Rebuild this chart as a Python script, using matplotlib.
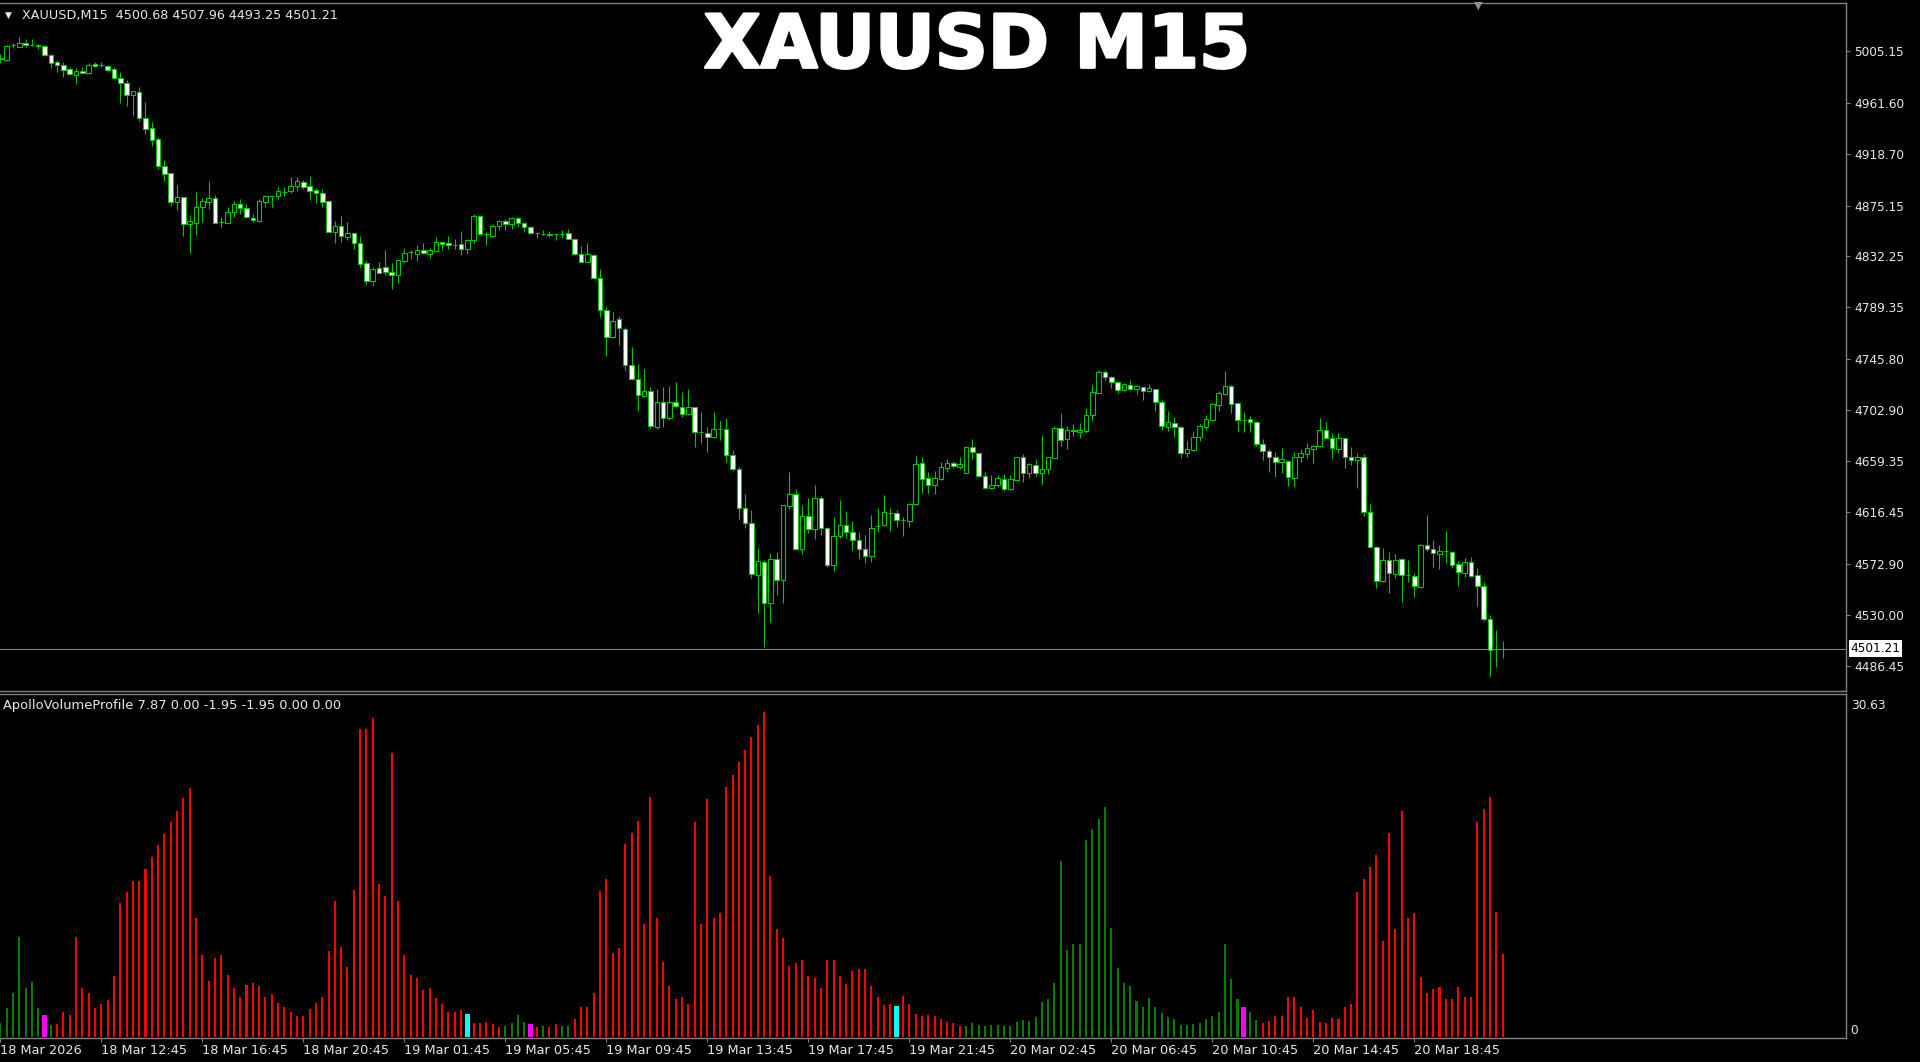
import matplotlib.pyplot as plt
import matplotlib.patheffects as pe
import numpy as np
from matplotlib.transforms import blended_transform_factory

# XAUUSD M15 bars, 18 Mar 2026 08:45 onwards
opens = [
    4999.0, 4997.9, 5010.3, 5009.1, 5011.9, 5010.5, 5010.8, 5009.7, 5002.4, 4995.9,
    4994.0, 4990.0, 4985.5, 4988.6, 4986.6, 4994.2, 4994.0, 4992.8, 4990.0, 4983.0,
    4978.8, 4968.1, 4971.2, 4949.3, 4940.3, 4931.0, 4908.8, 4902.3, 4878.4, 4882.1,
    4859.3, 4860.7, 4873.6, 4878.4, 4881.8, 4861.5, 4860.7, 4869.7, 4876.4, 4872.8,
    4864.9, 4862.1, 4878.4, 4883.5, 4883.2, 4886.8, 4887.7, 4891.6, 4895.0, 4891.6,
    4888.2, 4886.0, 4879.0, 4853.1, 4858.2, 4848.3, 4851.7, 4843.8, 4826.4, 4811.8,
    4822.2, 4823.6, 4818.8, 4816.3, 4828.3, 4835.7, 4834.3, 4837.6, 4834.3, 4836.8,
    4844.1, 4843.2, 4842.1, 4842.4, 4838.7, 4846.1, 4866.3, 4850.8, 4849.7, 4857.9,
    4862.1, 4859.3, 4864.9, 4860.7, 4856.7, 4851.7, 4851.4, 4850.8, 4850.8, 4851.4,
    4851.7, 4847.2, 4834.3, 4827.5, 4833.4, 4814.3, 4787.0, 4764.0, 4779.1, 4771.3,
    4740.6, 4728.5, 4714.8, 4719.0, 4688.6, 4709.7, 4695.6, 4709.7, 4705.5, 4699.0,
    4704.9, 4683.8, 4683.0, 4679.6, 4686.9, 4686.9, 4664.7, 4652.6, 4619.7, 4607.6,
    4563.5, 4574.8, 4539.6, 4576.7, 4559.3, 4622.0, 4631.6, 4585.2, 4613.6, 4602.0,
    4628.2, 4603.4, 4571.9, 4596.7, 4605.4, 4600.1, 4593.0, 4585.4, 4579.8, 4604.9,
    4605.7, 4615.5, 4615.5, 4609.9, 4609.3, 4623.1, 4657.7, 4645.6, 4639.1, 4644.5,
    4654.0, 4657.7, 4654.9, 4649.8, 4671.8, 4666.7, 4647.3, 4636.6, 4639.1, 4644.8,
    4635.8, 4643.6, 4662.8, 4649.8, 4656.6, 4649.3, 4652.6, 4662.5, 4687.2, 4677.9,
    4685.3, 4684.1, 4685.3, 4698.5, 4717.3, 4734.5, 4730.8, 4726.3, 4719.6, 4723.8,
    4720.1, 4722.4, 4718.7, 4720.1, 4709.7, 4688.6, 4692.0, 4688.6, 4666.7, 4668.9,
    4679.6, 4688.1, 4694.3, 4706.9, 4716.2, 4723.2, 4708.3, 4694.3, 4694.8, 4692.9,
    4673.7, 4668.1, 4663.3, 4658.5, 4659.9, 4645.6, 4663.3, 4665.6, 4669.5, 4672.3,
    4685.8, 4678.8, 4669.8, 4678.8, 4662.8, 4660.5, 4663.3, 4616.4, 4587.4, 4558.4,
    4576.2, 4564.4, 4577.3, 4563.5, 4562.9, 4553.1, 4588.8, 4585.4, 4581.2, 4583.8,
    4583.2, 4572.5, 4565.5, 4574.2, 4563.2, 4554.5, 4526.1, 4500.9, 4500.68,
]
highs = [
    5003.0, 5010.5, 5011.9, 5017.0, 5015.3, 5015.9, 5011.1, 5010.3, 5003.0, 4997.9,
    4996.5, 4991.7, 4990.9, 4991.7, 4995.1, 4996.5, 4995.9, 4993.7, 4991.7, 4988.1,
    4981.0, 4971.5, 4974.8, 4962.8, 4945.9, 4933.2, 4913.5, 4902.9, 4892.5, 4882.6,
    4867.2, 4886.3, 4881.2, 4895.8, 4884.0, 4865.2, 4873.6, 4879.0, 4880.9, 4876.4,
    4867.7, 4880.4, 4884.0, 4883.6, 4891.1, 4891.1, 4899.5, 4899.5, 4896.7, 4900.3,
    4890.2, 4888.8, 4879.8, 4862.4, 4866.3, 4861.5, 4851.7, 4849.4, 4829.2, 4823.0,
    4827.8, 4837.6, 4826.4, 4829.2, 4839.6, 4837.6, 4841.8, 4843.8, 4839.6, 4848.9,
    4844.6, 4849.7, 4846.9, 4853.9, 4846.9, 4867.7, 4866.9, 4852.5, 4859.3, 4862.9,
    4863.8, 4865.7, 4865.7, 4861.2, 4857.9, 4852.5, 4854.5, 4853.6, 4851.1, 4854.5,
    4855.1, 4847.7, 4841.0, 4843.2, 4834.0, 4821.3, 4789.3, 4785.0, 4782.2, 4772.4,
    4755.5, 4741.5, 4737.2, 4722.3, 4720.4, 4721.8, 4723.2, 4726.6, 4717.6, 4720.4,
    4705.5, 4701.3, 4688.6, 4700.7, 4693.4, 4695.6, 4668.9, 4654.9, 4631.5, 4618.3,
    4586.5, 4576.2, 4581.8, 4583.2, 4622.3, 4650.1, 4635.8, 4622.6, 4628.2, 4639.4,
    4630.1, 4604.3, 4612.2, 4626.8, 4617.5, 4609.1, 4599.5, 4597.3, 4614.1, 4619.7,
    4631.0, 4619.7, 4618.3, 4612.2, 4624.0, 4663.9, 4662.8, 4650.1, 4651.2, 4659.1,
    4661.6, 4659.7, 4663.3, 4672.6, 4678.2, 4667.0, 4650.7, 4647.9, 4647.9, 4648.7,
    4647.6, 4663.3, 4665.6, 4657.7, 4661.4, 4681.6, 4663.3, 4689.5, 4699.9, 4689.2,
    4690.9, 4692.0, 4704.7, 4723.8, 4736.4, 4736.4, 4731.6, 4727.4, 4725.2, 4728.0,
    4723.8, 4722.4, 4724.6, 4720.1, 4711.1, 4702.1, 4696.5, 4689.5, 4676.8, 4685.0,
    4690.9, 4698.5, 4708.9, 4718.7, 4735.9, 4723.8, 4709.2, 4701.3, 4697.9, 4693.4,
    4678.2, 4669.5, 4667.5, 4670.9, 4660.5, 4667.5, 4669.8, 4674.6, 4673.2, 4695.7,
    4692.9, 4683.0, 4683.0, 4679.4, 4671.2, 4666.7, 4665.6, 4623.4, 4588.3, 4586.0,
    4583.2, 4580.9, 4578.1, 4576.2, 4565.5, 4589.4, 4614.1, 4593.0, 4588.8, 4600.6,
    4583.8, 4575.3, 4577.6, 4579.0, 4569.1, 4557.3, 4529.8, 4517.1, 4507.96,
]
lows = [
    4995.6, 4997.0, 5008.0, 5008.6, 5009.1, 5009.7, 5006.9, 5001.6, 4990.9, 4988.1,
    4983.8, 4985.2, 4977.7, 4986.6, 4985.8, 4992.3, 4991.7, 4988.1, 4982.1, 4961.9,
    4959.1, 4950.7, 4946.7, 4935.2, 4925.6, 4905.7, 4896.1, 4874.7, 4871.4, 4849.7,
    4834.8, 4850.3, 4861.0, 4872.2, 4860.1, 4857.3, 4860.7, 4865.7, 4867.7, 4864.3,
    4861.5, 4861.0, 4874.2, 4873.6, 4880.4, 4883.5, 4885.4, 4887.4, 4889.1, 4880.6,
    4877.0, 4873.6, 4852.5, 4843.8, 4844.7, 4846.1, 4838.5, 4823.6, 4809.0, 4807.3,
    4818.0, 4816.5, 4804.4, 4809.5, 4826.4, 4830.0, 4828.6, 4834.3, 4830.6, 4836.2,
    4837.6, 4838.7, 4838.2, 4833.4, 4834.3, 4843.2, 4850.0, 4841.8, 4848.9, 4854.5,
    4854.5, 4855.3, 4857.3, 4852.5, 4851.1, 4848.0, 4850.0, 4848.9, 4846.1, 4847.5,
    4846.6, 4833.4, 4827.2, 4827.2, 4813.4, 4780.8, 4748.2, 4763.1, 4757.5, 4736.4,
    4728.0, 4701.8, 4713.9, 4687.2, 4686.9, 4688.6, 4694.2, 4705.5, 4696.5, 4698.5,
    4671.7, 4675.1, 4666.9, 4678.8, 4677.4, 4658.5, 4651.5, 4610.4, 4602.8, 4560.7,
    4531.1, 4503.1, 4524.1, 4546.6, 4539.6, 4619.2, 4584.6, 4581.2, 4598.7, 4593.6,
    4597.3, 4570.5, 4566.9, 4594.4, 4594.4, 4584.6, 4577.0, 4573.9, 4574.5, 4600.1,
    4605.1, 4600.9, 4604.3, 4596.7, 4604.3, 4622.6, 4633.0, 4633.0, 4631.8, 4643.6,
    4650.7, 4653.5, 4652.9, 4649.3, 4661.1, 4646.5, 4636.1, 4635.8, 4638.0, 4634.6,
    4635.2, 4643.1, 4642.2, 4645.1, 4647.0, 4639.4, 4648.7, 4661.9, 4672.6, 4669.8,
    4680.8, 4679.4, 4683.0, 4693.4, 4716.7, 4728.0, 4721.0, 4716.7, 4719.0, 4719.6,
    4716.2, 4711.1, 4717.9, 4702.1, 4685.8, 4685.3, 4680.2, 4661.9, 4663.3, 4668.4,
    4676.8, 4685.8, 4693.7, 4702.1, 4715.3, 4699.9, 4685.3, 4684.4, 4684.4, 4672.3,
    4660.5, 4650.7, 4646.5, 4649.8, 4638.6, 4637.5, 4659.1, 4661.9, 4657.7, 4671.8,
    4678.2, 4662.5, 4666.1, 4654.0, 4656.3, 4637.2, 4613.6, 4586.9, 4552.3, 4557.9,
    4548.1, 4560.7, 4541.0, 4557.3, 4544.7, 4552.3, 4584.0, 4570.5, 4568.6, 4573.3,
    4569.1, 4554.5, 4562.1, 4561.5, 4537.4, 4525.0, 4477.2, 4486.2, 4493.25,
]
closes = [
    4999.3, 5009.7, 5010.5, 5011.9, 5010.3, 5010.3, 5009.7, 5002.4, 4995.6, 4993.7,
    4989.5, 4985.8, 4988.9, 4987.2, 4993.7, 4993.1, 4993.9, 4989.5, 4983.0, 4978.2,
    4968.4, 4971.5, 4948.7, 4939.7, 4930.4, 4908.8, 4901.7, 4878.4, 4882.6, 4859.3,
    4862.1, 4874.2, 4879.0, 4881.8, 4860.7, 4861.6, 4870.0, 4876.4, 4872.8, 4865.2,
    4862.9, 4879.0, 4883.2, 4883.6, 4887.4, 4886.9, 4891.9, 4895.5, 4891.1, 4887.7,
    4886.0, 4878.4, 4853.1, 4858.2, 4849.7, 4851.7, 4843.3, 4825.8, 4811.8, 4821.6,
    4817.9, 4818.8, 4816.3, 4829.2, 4834.8, 4835.8, 4837.6, 4834.8, 4837.6, 4844.4,
    4842.4, 4841.6, 4842.0, 4838.7, 4846.1, 4866.3, 4850.8, 4850.9, 4858.2, 4862.1,
    4859.6, 4864.9, 4860.7, 4856.7, 4851.7, 4851.6, 4851.5, 4850.7, 4850.9, 4851.5,
    4847.2, 4834.0, 4827.8, 4834.0, 4814.3, 4787.0, 4764.5, 4778.0, 4771.5, 4740.6,
    4728.5, 4715.3, 4719.0, 4689.2, 4709.7, 4696.2, 4709.7, 4706.0, 4699.3, 4704.9,
    4683.8, 4683.9, 4680.2, 4686.4, 4687.0, 4664.7, 4652.6, 4619.7, 4607.6, 4564.0,
    4575.3, 4539.6, 4576.7, 4559.3, 4622.3, 4631.6, 4585.4, 4613.6, 4602.0, 4628.2,
    4603.4, 4571.9, 4596.7, 4605.4, 4599.8, 4593.0, 4585.4, 4579.8, 4603.4, 4605.0,
    4616.4, 4615.6, 4609.9, 4609.8, 4623.4, 4657.1, 4644.8, 4639.1, 4645.1, 4654.9,
    4657.7, 4655.5, 4656.9, 4671.8, 4667.0, 4647.0, 4636.6, 4639.4, 4645.1, 4635.8,
    4644.5, 4662.8, 4649.8, 4656.9, 4649.3, 4652.9, 4662.8, 4687.2, 4677.4, 4685.8,
    4685.4, 4686.1, 4698.5, 4717.9, 4734.5, 4730.8, 4726.0, 4719.6, 4724.6, 4720.1,
    4722.9, 4719.0, 4721.0, 4709.7, 4689.2, 4692.3, 4688.1, 4666.7, 4669.8, 4679.6,
    4689.2, 4694.8, 4707.7, 4716.7, 4723.2, 4707.7, 4694.3, 4694.2, 4692.3, 4673.7,
    4668.1, 4663.3, 4658.5, 4661.1, 4645.9, 4663.3, 4666.1, 4670.4, 4672.3, 4685.8,
    4678.8, 4670.4, 4679.4, 4662.8, 4660.5, 4663.3, 4616.4, 4587.4, 4558.7, 4576.2,
    4564.9, 4576.2, 4563.5, 4563.6, 4554.5, 4588.8, 4585.4, 4581.8, 4583.8, 4583.3,
    4571.9, 4565.8, 4574.2, 4562.9, 4554.5, 4526.1, 4500.3, 4500.7, 4501.21,
]

# ApolloVolumeProfile histogram, one value per bar
volume = [
    1.35, 2.70, 4.12, 9.40, 4.59, 5.15, 2.70, 2.04, 1.13, 1.23,
    2.39, 2.08, 9.40, 4.59, 4.12, 2.70, 3.11, 3.49, 5.75, 12.60,
    13.70, 14.74, 14.74, 15.84, 16.94, 18.10, 19.14, 20.30, 21.33, 22.50,
    23.50, 11.19, 7.73, 5.31, 7.48, 7.73, 5.85, 4.65, 3.80, 4.90,
    5.06, 4.84, 3.80, 4.05, 3.17, 2.86, 2.33, 2.01, 1.98, 2.61,
    3.17, 3.80, 8.11, 12.82, 8.52, 6.63, 13.86, 29.00, 29.00, 30.04,
    14.42, 13.32, 26.80, 12.82, 7.73, 5.85, 5.53, 4.43, 4.59, 3.65,
    3.11, 2.33, 2.33, 2.55, 2.17, 1.35, 1.35, 1.45, 1.20, 0.98,
    1.04, 1.35, 2.04, 1.45, 1.23, 0.98, 1.04, 0.98, 1.23, 1.04,
    1.04, 1.67, 2.86, 2.86, 4.18, 13.79, 14.86, 7.95, 8.42, 18.19,
    19.26, 20.39, 10.65, 22.59, 11.18, 7.04, 4.80, 3.58, 3.74, 3.11,
    20.29, 10.65, 22.43, 11.18, 11.65, 23.53, 24.66, 25.95, 27.05, 28.30,
    29.37, 30.63, 15.17, 10.15, 9.36, 6.69, 6.97, 7.22, 5.75, 5.59,
    4.62, 7.25, 7.25, 5.75, 5.00, 6.19, 6.41, 6.41, 4.80, 3.74,
    3.01, 3.11, 2.92, 3.86, 3.11, 2.17, 1.98, 2.07, 1.98, 1.66,
    1.44, 1.29, 1.03, 1.03, 1.29, 1.13, 1.03, 1.13, 1.13, 1.03,
    1.03, 1.44, 1.60, 1.51, 1.85, 3.30, 3.58, 5.06, 16.59, 8.20,
    8.76, 8.76, 18.56, 19.57, 20.51, 21.64, 10.24, 6.47, 5.06, 4.84,
    3.42, 2.86, 3.64, 2.86, 2.23, 1.91, 1.66, 1.13, 1.13, 1.22,
    1.35, 1.69, 1.98, 2.32, 8.73, 5.43, 3.58, 2.82, 2.32, 1.60,
    1.35, 1.51, 2.01, 2.01, 3.80, 3.80, 2.86, 1.82, 2.54, 1.44,
    1.35, 1.76, 1.66, 2.86, 3.11, 13.70, 14.86, 15.99, 17.15, 9.05,
    19.26, 10.15, 21.33, 11.18, 11.65, 5.68, 4.18, 4.49, 4.68, 3.58,
    3.58, 4.68, 3.74, 3.74, 20.29, 21.49, 22.65, 11.81, 7.87,
]
# G=green R=red M=magenta C=cyan, per bar
volume_codes = "".join([
    "GGGGGGGMGR", "RRRRRRRRRR", "RRRRRRRRRR", "RRRRRRRRRR", "RRRRRRRRRR",
    "RRRRRRRRRR", "RRRRRRRRRR", "RRRRCRRRRR", "GGGGMRGRRG", "GRRRRRRRRR",
    "RRRRRRRRRR", "RRRRRRRRRR", "RRRRRRRRRR", "RRRRRRRRRR", "RRCRRRRRRR",
    "RRRGGGGGGG", "GGGGGGGGGG", "GGGGGGGGGG", "GGGGGGGGGG", "GGGGGGGMGG",
    "RRRRRRRRRR", "RRRRRRRRRR", "RRRRRRRRRR", "RRRRRRRRR",
])

price_ticks = [5005.15, 4961.60, 4918.70, 4875.15, 4832.25, 4789.35, 4745.80,
               4702.90, 4659.35, 4616.45, 4572.90, 4530.00, 4486.45]
time_labels = ["18 Mar 2026", "18 Mar 12:45", "18 Mar 16:45", "18 Mar 20:45",
               "19 Mar 01:45", "19 Mar 05:45", "19 Mar 09:45", "19 Mar 13:45",
               "19 Mar 17:45", "19 Mar 21:45", "20 Mar 02:45", "20 Mar 06:45",
               "20 Mar 10:45", "20 Mar 14:45", "20 Mar 18:45"]
bars_per_label = 16  # 4 hours of M15 bars
last_price = 4501.21
header = "XAUUSD,M15  4500.68 4507.96 4493.25 4501.21"
ind_header = "ApolloVolumeProfile 7.87 0.00 -1.95 -1.95 0.00 0.00"
ind_max = 30.63

GREEN = '#00c800'
FRAME = '#808080'
TXT = '#e8e8e8'
code_colors = {'G': '#008000', 'R': '#ff0000', 'M': '#ff00ff', 'C': '#00ffff'}

W, H = 1920, 1062
fig = plt.figure(figsize=(W / 100, H / 100), dpi=100, facecolor='black')


def px_axes(x0, y0, x1, y1):
    # axes placed in pixel coords, origin top-left
    a = fig.add_axes([x0 / W, 1 - y1 / H, (x1 - x0) / W, (y1 - y0) / H])
    a.set_facecolor('black')
    for s in a.spines.values():
        s.set_color(FRAME)
        s.set_linewidth(1)
    a.spines['left'].set_visible(False)
    return a


ax = px_axes(0, 3, 1846, 691)
ax_vol = px_axes(0, 694, 1846, 1038)

n = len(closes)
idx = np.arange(n)
o, h, l, c = (np.array(v) for v in (opens, highs, lows, closes))
up = c >= o

# candles
ax.vlines(idx, l, h, color=GREEN, lw=0.8, zorder=2)
ax.bar(idx, np.abs(c - o), bottom=np.minimum(o, c), width=0.72,
       color=np.where(up, 'black', 'white'), edgecolor=GREEN, linewidth=0.8, zorder=3)
ax.axhline(last_price, color='#7a7f86', lw=0.8, zorder=1)

ax.set_xlim(-0.05, 292.4)
ax.set_ylim(4465.6, 5046.0)
ax.tick_params(axis='x', bottom=False, labelbottom=False)
ax.yaxis.tick_right()
ax.set_yticks(price_ticks)
ax.set_yticklabels([f'{p:.2f}' for p in price_ticks])
ax.tick_params(axis='y', length=3, width=0.8, color=FRAME, labelcolor=TXT,
               labelsize=8.7, pad=3)

# current price box
trans = blended_transform_factory(ax.transAxes, ax.transData)
ax.text(1.0025, last_price, f'{last_price:.2f}', transform=trans, fontsize=8.7,
        color='black', va='center', ha='left',
        bbox=dict(boxstyle='square,pad=0.15', fc='white', ec='none'), clip_on=False)

# volume histogram
vol_colors = [code_colors[k] for k in volume_codes]
vol_widths = [0.8 if k in 'MC' else 0.32 for k in volume_codes]
ax_vol.bar(idx, volume, width=vol_widths, color=vol_colors, linewidth=0)
ax_vol.set_xlim(-0.05, 292.4)
ax_vol.set_ylim(-0.09, 32.33)
ax_vol.set_yticks([])
ax_vol.set_xticks(np.arange(len(time_labels)) * bars_per_label)
ax_vol.set_xticklabels(time_labels, ha='left')
ax_vol.tick_params(axis='x', length=3, width=0.8, color=FRAME, labelcolor=TXT,
                   labelsize=9.3, pad=1)

vtrans = blended_transform_factory(ax_vol.transAxes, ax_vol.transData)
for val, lab in ((ind_max, f'{ind_max:.2f}'), (0, '0')):
    ax_vol.text(1.0025, val, lab, transform=vtrans, fontsize=8.7, color=TXT,
                va='bottom', ha='left', clip_on=False)

# header texts
fig.text(5 / W, 1 - 15 / H, '▼', color=TXT, fontsize=6.5, va='center', ha='left')
fig.text(22 / W, 1 - 15 / H, header, color=TXT, fontsize=9.2, va='center', ha='left')
fig.text(3 / W, 1 - 706 / H, ind_header, color=TXT, fontsize=9.4, va='center', ha='left')
fig.text(977 / W, 1 - 47 / H, 'XAUUSD M15', color='white', fontsize=53,
         fontweight='bold', va='center', ha='center',
         path_effects=[pe.withStroke(linewidth=2, foreground='white')])
fig.text(1478 / W, 1 - 6 / H, '▼', color='#8a929c', fontsize=8, va='center', ha='center')

fig.savefig('out.png', dpi=100, facecolor='black')
